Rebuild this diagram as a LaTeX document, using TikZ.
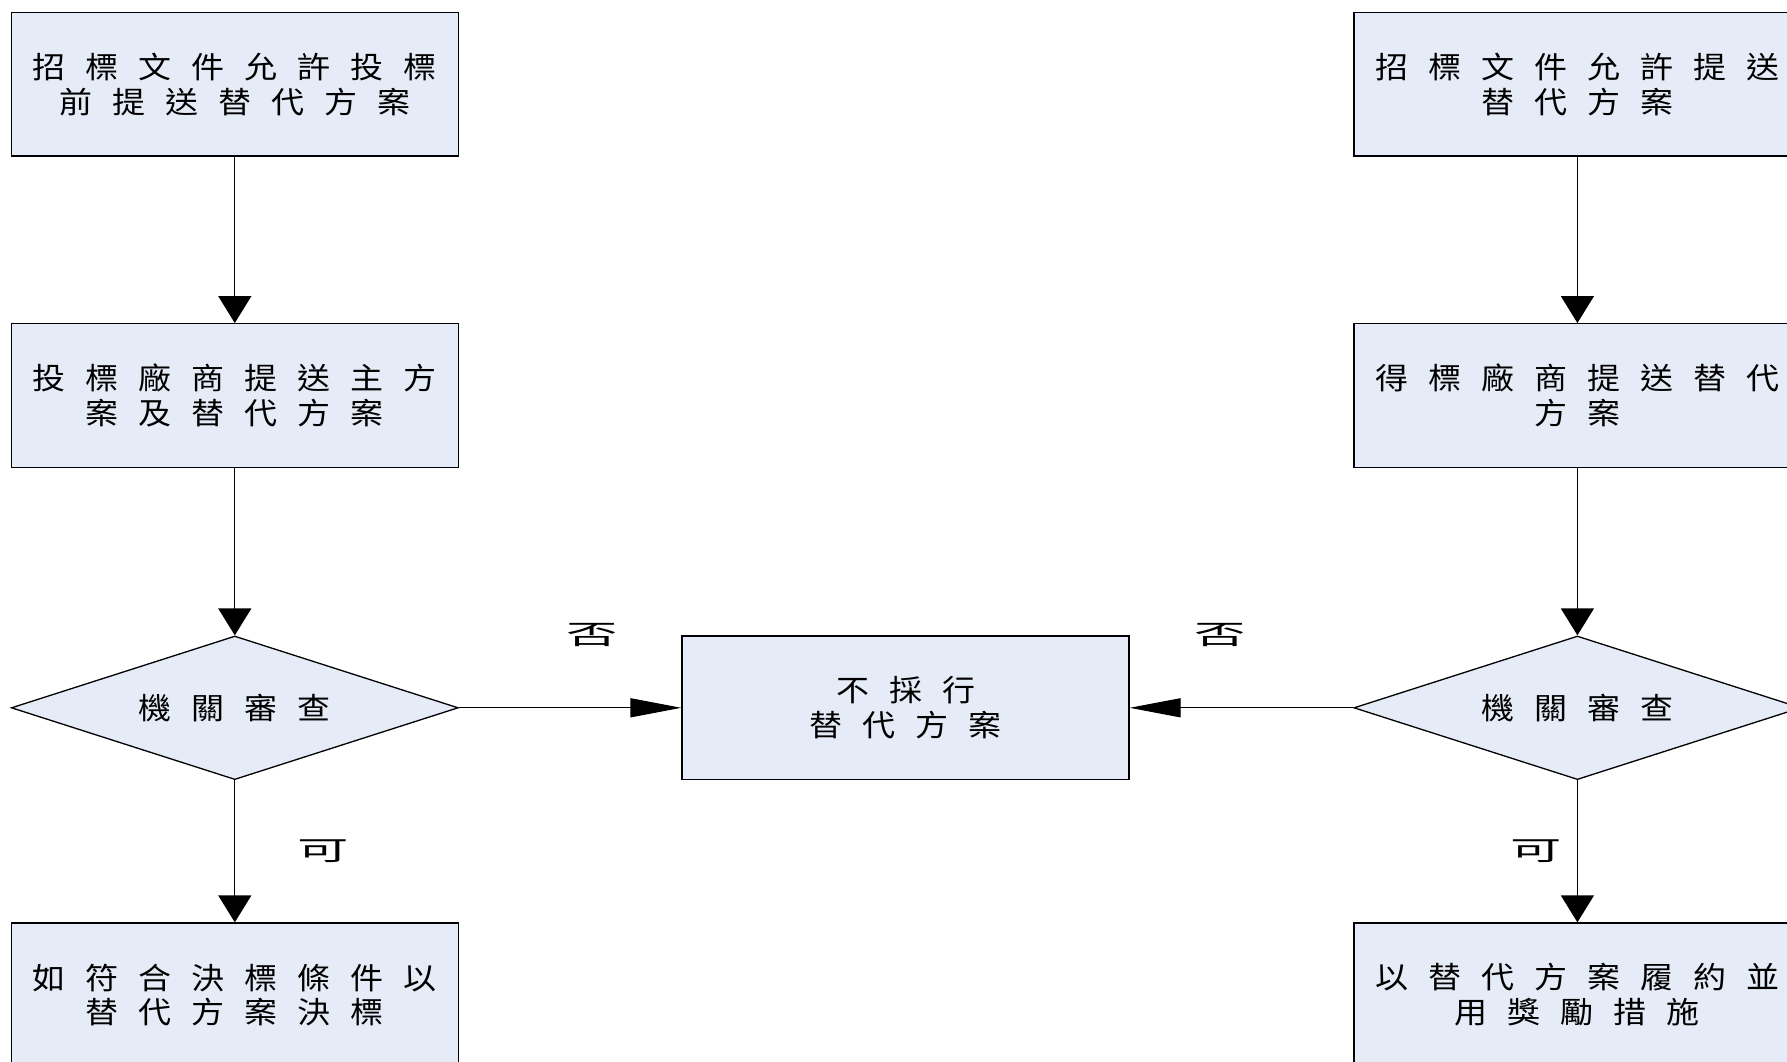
\documentclass[tikz,border=0pt]{standalone}
\usepackage{fontspec}
\newfontfamily\boxfont[FakeStretch=1.1]{Noto Sans CJK TC}
\newfontfamily\labfont[FakeStretch=1.9]{Noto Sans CJK TC}
\usetikzlibrary{arrows.meta,shapes.geometric}
\XeTeXinterchartokenstate=1
\newcount\cjkc
\cjkc="4E00
\loop \XeTeXcharclass\cjkc=7 \advance\cjkc by 1 \ifnum\cjkc<"A000 \repeat
\newdimen\cjkgap \cjkgap=20pt
\XeTeXinterchartoks 7 7 = {\hskip\cjkgap\relax}
\definecolor{boxfill}{HTML}{E6ECF7}
\tikzset{
  flowbox/.style={draw=black, line width=1.3pt, fill=boxfill, minimum width=447pt,
    minimum height=143.6pt, inner sep=0pt, align=center,
    font=\boxfont\fontsize{30pt}{34.5pt}\selectfont},
  decision/.style={diamond, aspect=3.1, draw=black, line width=1.3pt, fill=boxfill,
    minimum width=447pt, minimum height=143.6pt, inner sep=0pt, align=center,
    font=\boxfont\fontsize{30pt}{34.5pt}\selectfont},
  lab/.style={inner sep=0pt, font=\labfont\fontsize{27pt}{30pt}\selectfont},
  vconn/.style={line width=1.3pt, -{Triangle[length=27pt,width=33pt]}},
  hconn/.style={line width=1.3pt, -{Triangle[length=51pt,width=19pt]}}
}
\begin{document}
\begin{tikzpicture}[x=1pt,y=-1pt]
\useasboundingbox (0,0) rectangle (1787,1062);
\clip (0,0) rectangle (1787,1062);
\fill[white] (0,0) rectangle (1787,1062);
% left column
\node[flowbox] (L1) at (234.8,84.3) {招標文件允許投標\\前提送替代方案};
\node[flowbox] (L2) at (234.8,395.5) {投標廠商提送主方\\案及替代方案};
\node[decision] (LD) at (234.8,707.8) {機關審查};
\node[flowbox] (L3) at (234.8,994.8) {如符合決標條件以\\替代方案決標};
% middle
\node[flowbox] (M) at (905.5,707.8) {不採行\\替代方案};
% right column
\node[flowbox] (R1) at (1577.4,84.3) {招標文件允許提送\\替代方案};
\node[flowbox] (R2) at (1577.4,395.5) {得標廠商提送替代\\方案};
\node[decision] (RD) at (1577.4,707.8) {機關審查};
\node[flowbox] (R3) at (1577.4,994.8) {以替代方案履約並\\用獎勵措施};
% connectors
\draw[vconn] (L1) -- (L2);
\draw[vconn] (L2) -- (LD);
\draw[vconn] (LD) -- (L3);
\draw[hconn] (LD.east) -- (M.west);
\draw[vconn] (R1) -- (R2);
\draw[vconn] (R2) -- (RD);
\draw[vconn] (RD) -- (R3);
\draw[hconn] (RD.west) -- (M.east);
% labels
\node[lab] (noL) at (592.6,635) {否};
\node[lab] (noR) at (1220,635) {否};
\node[lab] (okL) at (323.5,851) {可};
\node[lab] (okR) at (1536,851) {可};
\end{tikzpicture}
\end{document}
